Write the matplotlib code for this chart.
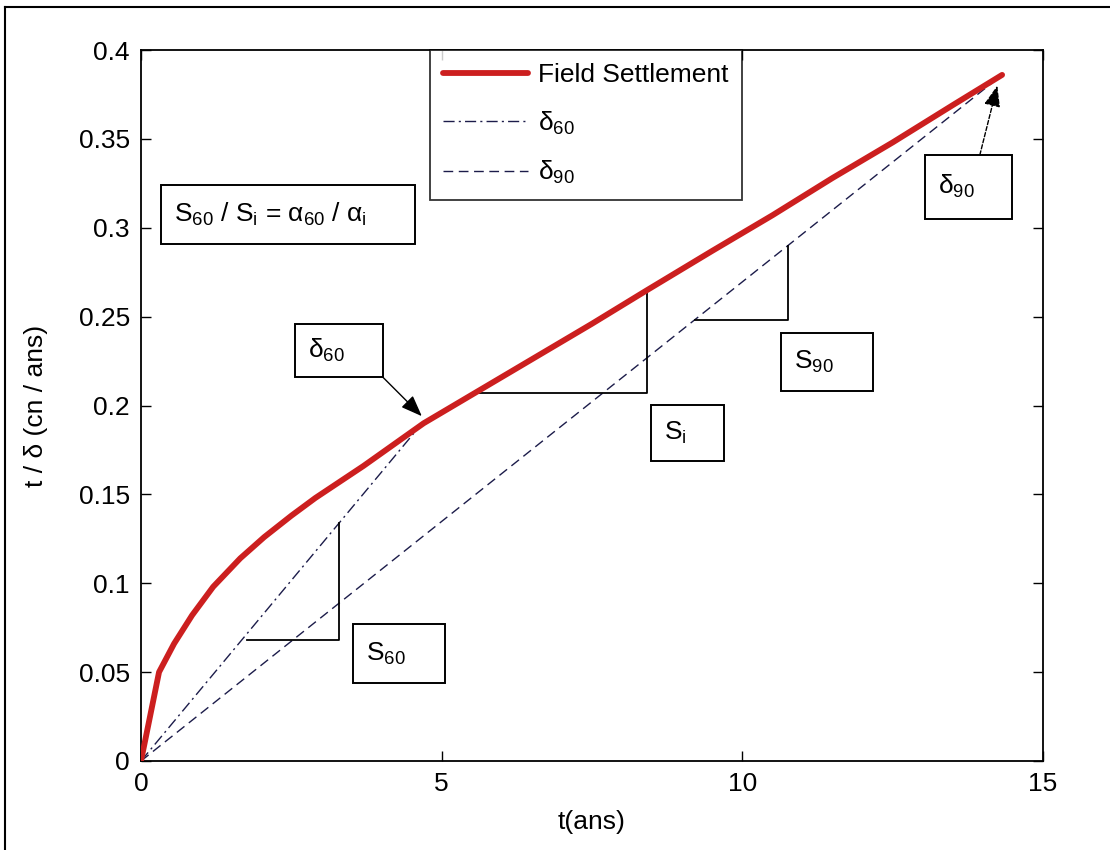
import matplotlib
matplotlib.use("Agg")
import matplotlib.pyplot as plt
from matplotlib.patches import Rectangle
from matplotlib.lines import Line2D

FONT = ["Liberation Sans Narrow", "Liberation Sans", "DejaVu Sans"]
plt.rcParams["font.family"] = FONT
plt.rcParams["mathtext.fontset"] = "custom"
plt.rcParams["mathtext.rm"] = "Liberation Sans"
plt.rcParams["mathtext.it"] = "Liberation Sans"
plt.rcParams["mathtext.bf"] = "Liberation Sans:bold"

# Field settlement ratio t/delta versus time
t_field = [0, 0.3, 0.55, 0.85, 1.2, 1.65, 2.05, 2.5, 2.9, 3.3, 3.7, 4.2,
           4.7, 5.55, 6.5, 7.5, 8.42, 9.5, 10.5, 11.5, 12.5, 13.5, 14.32]
r_field = [0, 0.050, 0.066, 0.082, 0.098, 0.114, 0.126, 0.138, 0.148,
           0.157, 0.166, 0.178, 0.190, 0.207, 0.226, 0.246, 0.265, 0.287,
           0.307, 0.328, 0.348, 0.369, 0.386]

# Secant lines to the 60 % and 90 % points
t_d60 = [0, 4.7]
r_d60 = [0, 0.191]
t_d90 = [0, 14.32]
r_d90 = [0, 0.386]

# Slope triangles
t_s60 = [1.76, 3.3, 3.3]
r_s60 = [0.068, 0.068, 0.134]
t_si = [5.55, 8.42, 8.42]
r_si = [0.207, 0.207, 0.265]
t_s90 = [9.21, 10.76, 10.76]
r_s90 = [0.248, 0.248, 0.290]

x_ticks = [0, 5, 10, 15]
y_ticks = [0, 0.05, 0.1, 0.15, 0.2, 0.25, 0.3, 0.35, 0.4]
y_ticklabels = ["0", "0.05", "0.1", "0.15", "0.2", "0.25", "0.3", "0.35", "0.4"]

FS = 19
LINE_COL = "#1c1c4a"

fig = plt.figure(figsize=(11.1, 8.5), dpi=100)
ax = fig.add_axes([141 / 1110, 89 / 850, 902 / 1110, 711 / 850])

ax.plot(t_field, r_field, color="#cc1f1f", lw=4.2, solid_joinstyle="round",
        solid_capstyle="round", label="Field Settlement", zorder=3)
ax.plot(t_d60, r_d60, color=LINE_COL, lw=1.0, ls=(0, (8, 3, 1.5, 3)),
        label=r"δ$_{60}$", zorder=2)
ax.plot(t_d90, r_d90, color=LINE_COL, lw=1.0, ls=(0, (7, 4)),
        label=r"δ$_{90}$", zorder=2)

for tx, ry in ((t_s60, r_s60), (t_si, r_si), (t_s90, r_s90)):
    ax.plot(tx, ry, color="black", lw=1.3, zorder=2)

ax.set_xlim(0, 15)
ax.set_ylim(0, 0.4)
ax.set_xticks(x_ticks)
ax.set_xticklabels([str(v) for v in x_ticks])
ax.set_yticks(y_ticks)
ax.set_yticklabels(y_ticklabels)
ax.tick_params(direction="in", length=7, width=1.0, labelsize=FS, pad=8,
               top=True, right=True)
for s in ax.spines.values():
    s.set_linewidth(1.3)

ax.set_xlabel("t(ans)", fontsize=FS, labelpad=10)
ax.set_ylabel("t / δ (cn / ans)", fontsize=FS, labelpad=22)


def boxed(x0, y0, x1, y1, text, tx_off=0.2):
    ax.add_patch(Rectangle((x0, y0), x1 - x0, y1 - y0, fill=True,
                           facecolor="white", edgecolor="black", lw=1.4,
                           zorder=4))
    ax.text(x0 + tx_off, (y0 + y1) / 2, text, fontsize=FS, ha="left",
            va="center", zorder=5)


boxed(0.33, 0.291, 4.56, 0.324,
      r"S$_{60}$ / S$_{\mathrm{i}}$ = α$_{60}$ / α$_{\mathrm{i}}$", 0.22)
boxed(2.56, 0.216, 4.02, 0.246, r"δ$_{60}$", 0.22)
boxed(3.53, 0.044, 5.06, 0.077, r"S$_{60}$", 0.22)
boxed(8.48, 0.169, 9.70, 0.200, r"S$_{\mathrm{i}}$", 0.22)
boxed(10.64, 0.208, 12.17, 0.241, r"S$_{90}$", 0.22)
boxed(13.04, 0.305, 14.49, 0.341, r"δ$_{90}$", 0.22)

head = "-|>,head_length=1.3,head_width=0.5"
ax.annotate("", xy=(4.67, 0.194), xytext=(4.02, 0.216),
            arrowprops=dict(arrowstyle=head, color="black", lw=1.0,
                            shrinkA=0, shrinkB=0),
            zorder=6)
ax.annotate("", xy=(14.24, 0.380), xytext=(13.95, 0.341),
            arrowprops=dict(arrowstyle=head, color="black", lw=1.0,
                            ls=(0, (3, 1.5)), shrinkA=0, shrinkB=0),
            zorder=6)

leg = ax.legend(loc="upper left", bbox_to_anchor=(0.3204, 1.0),
                borderaxespad=0, fontsize=FS, frameon=True, fancybox=False,
                handlelength=3.2, handletextpad=0.4, labelspacing=0.85,
                borderpad=0.5)
leg.get_frame().set_edgecolor("black")
leg.get_frame().set_linewidth(1.3)
leg.set_zorder(7)

# Outer frame on the left and top of the figure
fig.add_artist(Line2D([5 / 1110, 5 / 1110], [0, 1 - 7 / 850],
                      transform=fig.transFigure, color="black", lw=1.5))
fig.add_artist(Line2D([5 / 1110, 1], [1 - 7 / 850, 1 - 7 / 850],
                      transform=fig.transFigure, color="black", lw=1.5))

fig.savefig("out.png", dpi=100)
